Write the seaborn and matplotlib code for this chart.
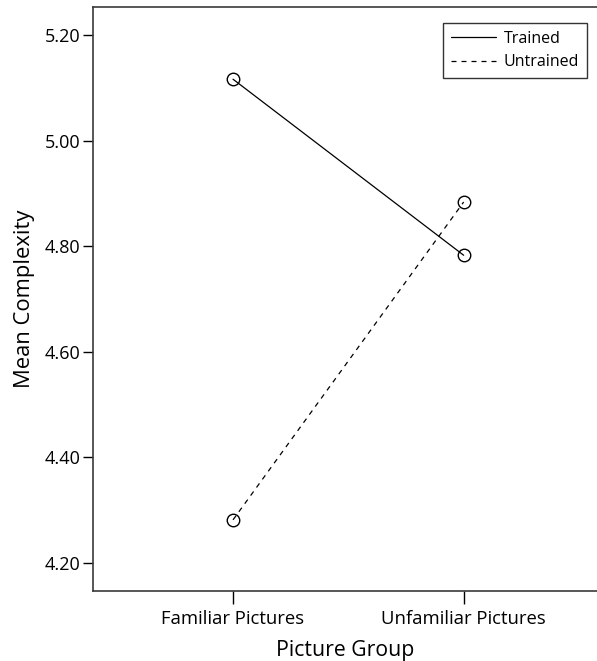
import pandas as pd
import matplotlib
matplotlib.use("Agg")
import matplotlib.pyplot as plt
import seaborn as sns
from matplotlib.lines import Line2D

# data
groups = ["Familiar Pictures", "Unfamiliar Pictures"]
trained = [5.117, 4.783]
untrained = [4.281, 4.884]

df = pd.DataFrame({
    "Picture Group": groups * 2,
    "Mean Complexity": trained + untrained,
    "Training": ["Trained"] * 2 + ["Untrained"] * 2,
})

sns.set_style("white", {"text.color": "black", "axes.labelcolor": "black"})
plt.rcParams["font.family"] = ["Open Sans", "DejaVu Sans"]

fig = plt.figure(figsize=(5.97, 6.61), dpi=100)
ax = fig.add_axes([93 / 597, 1 - 591 / 661, 504 / 597, 584 / 661])

sns.lineplot(
    data=df, x="Picture Group", y="Mean Complexity",
    hue="Training", style="Training",
    palette=["black", "black"], dashes=[(None, None), (4, 4)],
    markers=["o", "o"], markerfacecolor="none", markeredgecolor="black",
    markersize=9, markeredgewidth=1.0, linewidth=0.9,
    legend=False, ax=ax,
)

ax.set_xlim(-0.607, 1.578)
ax.set_ylim(4.146, 5.254)
ticks = [4.2, 4.4, 4.6, 4.8, 5.0, 5.2]
ax.set_yticks(ticks)
ax.set_yticklabels([f"{v:.2f}" for v in ticks])
ax.tick_params(axis="y", direction="out", length=7, width=1, colors="black",
               labelsize=13, left=True, pad=2)
ax.tick_params(axis="x", direction="out", length=9, width=1, colors="black",
               labelsize=13.3, bottom=True, pad=5)
ax.set_xlabel("Picture Group", fontsize=15.3, labelpad=8, color="black")
ax.set_ylabel("Mean Complexity", fontsize=15.8, labelpad=7, color="black")

for side in ["left", "bottom", "top"]:
    ax.spines[side].set_color("#3a3a3a")
    ax.spines[side].set_linewidth(1.2)
ax.spines["right"].set_visible(False)

handles = [
    Line2D([], [], color="black", lw=0.9, ls="-"),
    Line2D([], [], color="black", lw=0.9, ls=(0, (4, 4))),
]
leg = ax.legend(handles, ["Trained", "Untrained"], loc="upper right",
                bbox_to_anchor=(587 / 597, 1 - 23 / 661), bbox_transform=fig.transFigure,
                frameon=True, fancybox=False, fontsize=11.5, handlelength=2.8,
                borderpad=0.5, labelspacing=0.45, handletextpad=0.5,
                borderaxespad=0, labelcolor="black")
leg.get_frame().set_edgecolor("black")
leg.get_frame().set_linewidth(1)

fig.savefig("out.png", dpi=100)
